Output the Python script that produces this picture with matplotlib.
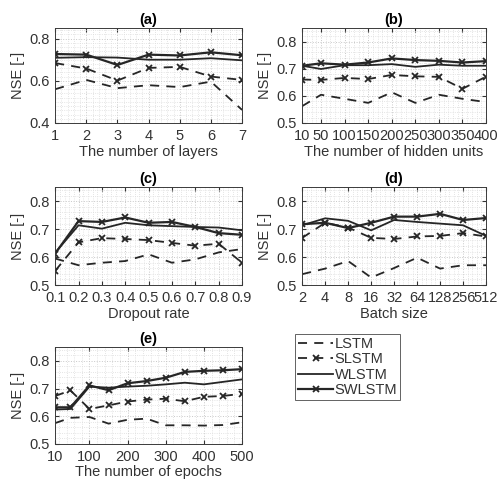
import matplotlib
matplotlib.use("Agg")
import matplotlib.pyplot as plt
from matplotlib.ticker import AutoMinorLocator, MultipleLocator

plt.rcParams["font.family"] = ["Liberation Sans", "DejaVu Sans"]

# ─── Dados ─────────────────────────────
series_names = ["LSTM", "SLSTM", "WLSTM", "SWLSTM"]

# (a) número de camadas
layers = [1, 2, 3, 4, 5, 6, 7]
a_lstm = [0.560, 0.604, 0.565, 0.579, 0.570, 0.596, 0.462]
a_slstm = [0.684, 0.658, 0.601, 0.661, 0.666, 0.620, 0.604]
a_wlstm = [0.709, 0.712, 0.710, 0.700, 0.700, 0.707, 0.697]
a_swlstm = [0.727, 0.724, 0.675, 0.724, 0.720, 0.735, 0.721]

# (b) unidades ocultas
hidden = [10, 50, 100, 150, 200, 250, 300, 350, 400]
b_lstm = [0.562, 0.604, 0.589, 0.574, 0.613, 0.574, 0.604, 0.589, 0.577]
b_slstm = [0.660, 0.659, 0.666, 0.662, 0.677, 0.672, 0.670, 0.626, 0.671]
b_wlstm = [0.711, 0.699, 0.713, 0.713, 0.717, 0.707, 0.715, 0.711, 0.711]
b_swlstm = [0.711, 0.720, 0.715, 0.723, 0.738, 0.732, 0.729, 0.723, 0.728]

# (c) dropout
dropout = [0.1, 0.2, 0.3, 0.4, 0.5, 0.6, 0.7, 0.8, 0.9]
c_lstm = [0.595, 0.571, 0.580, 0.586, 0.610, 0.580, 0.592, 0.617, 0.629]
c_slstm = [0.551, 0.653, 0.668, 0.665, 0.661, 0.651, 0.641, 0.648, 0.580]
c_wlstm = [0.616, 0.714, 0.702, 0.723, 0.714, 0.711, 0.708, 0.706, 0.696]
c_swlstm = [0.613, 0.729, 0.726, 0.742, 0.723, 0.726, 0.708, 0.686, 0.680]

# (d) batch size (eixo categórico)
batch = ["2", "4", "8", "16", "32", "64", "128", "256", "512"]
d_lstm = [0.539, 0.559, 0.586, 0.527, 0.561, 0.598, 0.559, 0.571, 0.571]
d_slstm = [0.669, 0.723, 0.706, 0.669, 0.665, 0.674, 0.676, 0.686, 0.674]
d_wlstm = [0.714, 0.739, 0.730, 0.696, 0.733, 0.726, 0.720, 0.714, 0.676]
d_swlstm = [0.718, 0.723, 0.704, 0.723, 0.745, 0.745, 0.755, 0.733, 0.740]

# (e) épocas
epochs = [10, 50, 100, 150, 200, 250, 300, 350, 400, 450, 500]
e_lstm = [0.575, 0.594, 0.597, 0.573, 0.587, 0.591, 0.567, 0.567, 0.566, 0.568, 0.578]
e_slstm = [0.673, 0.693, 0.626, 0.639, 0.653, 0.660, 0.663, 0.654, 0.670, 0.673, 0.681]
e_wlstm = [0.624, 0.626, 0.707, 0.703, 0.707, 0.710, 0.715, 0.721, 0.715, 0.724, 0.733]
e_swlstm = [0.632, 0.632, 0.711, 0.694, 0.719, 0.727, 0.739, 0.760, 0.764, 0.766, 0.770]

# ─── Estilo ─────────────────────────────
COR = "#262626"
TXT = "#333333"
FS = 10.5
estilos = {
    "LSTM":   dict(linestyle=(0, (5, 4)), marker=None, lw=1.3),
    "SLSTM":  dict(linestyle=(0, (5, 4)), marker="x", lw=1.3),
    "WLSTM":  dict(linestyle="-", marker=None, lw=1.3),
    "SWLSTM": dict(linestyle="-", marker="x", lw=1.6),
}


def desenha(ax, x, ys, titulo, xlabel, ylim, yticks):
    for nome, y in zip(series_names, ys):
        st = estilos[nome]
        ax.plot(x, y, color=COR, linestyle=st["linestyle"], marker=st["marker"],
                markersize=4, markeredgewidth=1.3, lw=st["lw"], label=nome)
    ax.set_title(titulo, fontsize=FS, fontweight="bold", color="black", pad=3)
    ax.set_xlabel(xlabel, fontsize=FS, color=TXT, labelpad=1)
    ax.set_ylabel("NSE [-]", fontsize=FS, color=TXT, labelpad=3)
    ax.set_ylim(*ylim)
    ax.set_yticks(yticks)
    ax.yaxis.set_minor_locator(MultipleLocator(0.02))
    ax.grid(which="major", color="#c8c8c8", linestyle=":", linewidth=0.7)
    ax.grid(which="minor", color="#dcdcdc", linestyle=":", linewidth=0.6)
    ax.tick_params(which="both", direction="in", labelsize=FS, colors=TXT,
                   length=3, top=True, right=True)
    ax.tick_params(axis="x", pad=4.5)
    ax.tick_params(axis="y", pad=4)
    ax.tick_params(which="minor", length=0)
    for s in ax.spines.values():
        s.set_color("#3a3a3a")
        s.set_linewidth(0.7)


fig = plt.figure(figsize=(4.97, 4.84), dpi=100)

ax_a = fig.add_axes([0.111, 0.746, 0.376, 0.196])
desenha(ax_a, layers, [a_lstm, a_slstm, a_wlstm, a_swlstm], "(a)",
        "The number of layers", (0.4, 0.85), [0.4, 0.6, 0.8])
ax_a.set_xlim(1, 7)
ax_a.set_xticks(layers)
ax_a.xaxis.set_minor_locator(AutoMinorLocator(5))

ax_b = fig.add_axes([0.608, 0.746, 0.370, 0.196])
desenha(ax_b, hidden, [b_lstm, b_slstm, b_wlstm, b_swlstm], "(b)",
        "The number of hidden units", (0.5, 0.85), [0.5, 0.6, 0.7, 0.8])
ax_b.set_xlim(10, 400)
ax_b.set_xticks(hidden)
ax_b.xaxis.set_minor_locator(MultipleLocator(10))

ax_c = fig.add_axes([0.111, 0.411, 0.376, 0.202])
desenha(ax_c, dropout, [c_lstm, c_slstm, c_wlstm, c_swlstm], "(c)",
        "Dropout rate", (0.5, 0.85), [0.5, 0.6, 0.7, 0.8])
ax_c.set_xlim(0.1, 0.9)
ax_c.set_xticks(dropout)
ax_c.xaxis.set_minor_locator(AutoMinorLocator(5))

ax_d = fig.add_axes([0.608, 0.411, 0.370, 0.202])
xd = list(range(len(batch)))
desenha(ax_d, xd, [d_lstm, d_slstm, d_wlstm, d_swlstm], "(d)",
        "Batch size", (0.5, 0.85), [0.5, 0.6, 0.7, 0.8])
ax_d.set_xlim(0, len(batch) - 1)
ax_d.set_xticks(xd)
ax_d.set_xticklabels(batch)
ax_d.xaxis.set_minor_locator(AutoMinorLocator(5))

ax_e = fig.add_axes([0.111, 0.083, 0.376, 0.200])
desenha(ax_e, epochs, [e_lstm, e_slstm, e_wlstm, e_swlstm], "(e)",
        "The number of epochs", (0.5, 0.85), [0.5, 0.6, 0.7, 0.8])
ax_e.set_xlim(10, 500)
ax_e.set_xticks([10, 100, 200, 300, 400, 500])
ax_e.xaxis.set_minor_locator(MultipleLocator(20))

handles, labels = ax_e.get_legend_handles_labels()
leg = fig.legend(handles, labels, loc="upper left", bbox_to_anchor=(0.594, 0.31),
                 fontsize=FS, frameon=True, fancybox=False, handlelength=2.4,
                 handletextpad=0.1, borderpad=0.2, labelspacing=0.1,
                 borderaxespad=0)
leg.get_frame().set_edgecolor("#3a3a3a")
leg.get_frame().set_linewidth(0.7)
for t in leg.get_texts():
    t.set_color(TXT)

plt.savefig("out.png", dpi=100)
plt.close()
